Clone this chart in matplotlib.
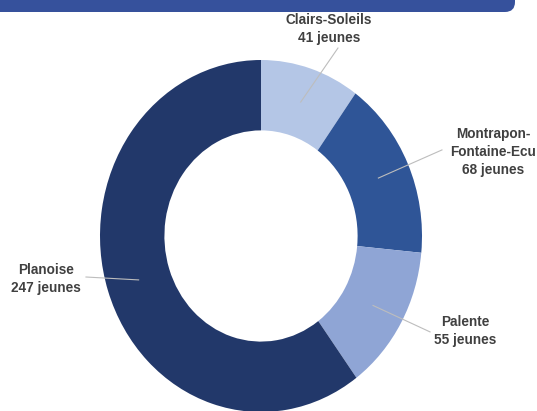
import numpy as np
import matplotlib
matplotlib.use("Agg")
import matplotlib.pyplot as plt
from matplotlib.patches import FancyBboxPatch

# data
quartiers = ["Clairs-Soleils", "Montrapon-\nFontaine-Ecu", "Palente", "Planoise"]
jeunes = [41, 68, 55, 247]
couleurs = ["#b4c6e6", "#2f5597", "#8fa5d5", "#22386a"]

# label block centres and leader ends (axes data units, ring radius = 1)
label_pos = [(0.422, 1.176), (1.44, 0.477), (1.267, -0.54), (-1.335, -0.244)]
leader_end = [(0.478, 1.068), (1.124, 0.489), (1.05, -0.545), (-1.087, -0.233)]

fig = plt.figure(figsize=(5.37, 4.11), dpi=100)

# header banner (cut at top of the picture)
banner = FancyBboxPatch((-0.3, 3.99), 5.45, 0.5,
                        boxstyle="round,pad=0,rounding_size=0.1",
                        transform=fig.dpi_scale_trans,
                        facecolor="#36519c", edgecolor="none")
fig.patches.append(banner)

# slightly stretched ring, as in the original picture
W, H = 537, 411
cx, cy, rx, ry = 261, 236, 161, 176
ax = fig.add_axes([(cx - rx) / W, (H - cy - ry) / H, 2 * rx / W, 2 * ry / H])

wedges, _ = ax.pie(jeunes, colors=couleurs, startangle=90, counterclock=False,
                   radius=1, wedgeprops=dict(width=0.4, edgecolor="none"))
ax.set_aspect("auto")
ax.set_xlim(-1, 1)
ax.set_ylim(-1, 1)
ax.axis("off")

for w, name, n, (tx, ty), (ex, ey) in zip(wedges, quartiers, jeunes, label_pos, leader_end):
    mid = np.deg2rad((w.theta1 + w.theta2) / 2)
    sx, sy = 0.8 * np.cos(mid), 0.8 * np.sin(mid)
    ax.plot([sx, ex], [sy, ey], color="#bdbdbd", lw=0.8, clip_on=False)
    ax.text(tx, ty, f"{name}\n{n} jeunes", ha="center", va="center",
            multialignment="center", fontsize=9.8, fontweight="bold",
            family="Liberation Sans", color="#404040", linespacing=1.35,
            clip_on=False)

fig.savefig("out.png", dpi=100)
